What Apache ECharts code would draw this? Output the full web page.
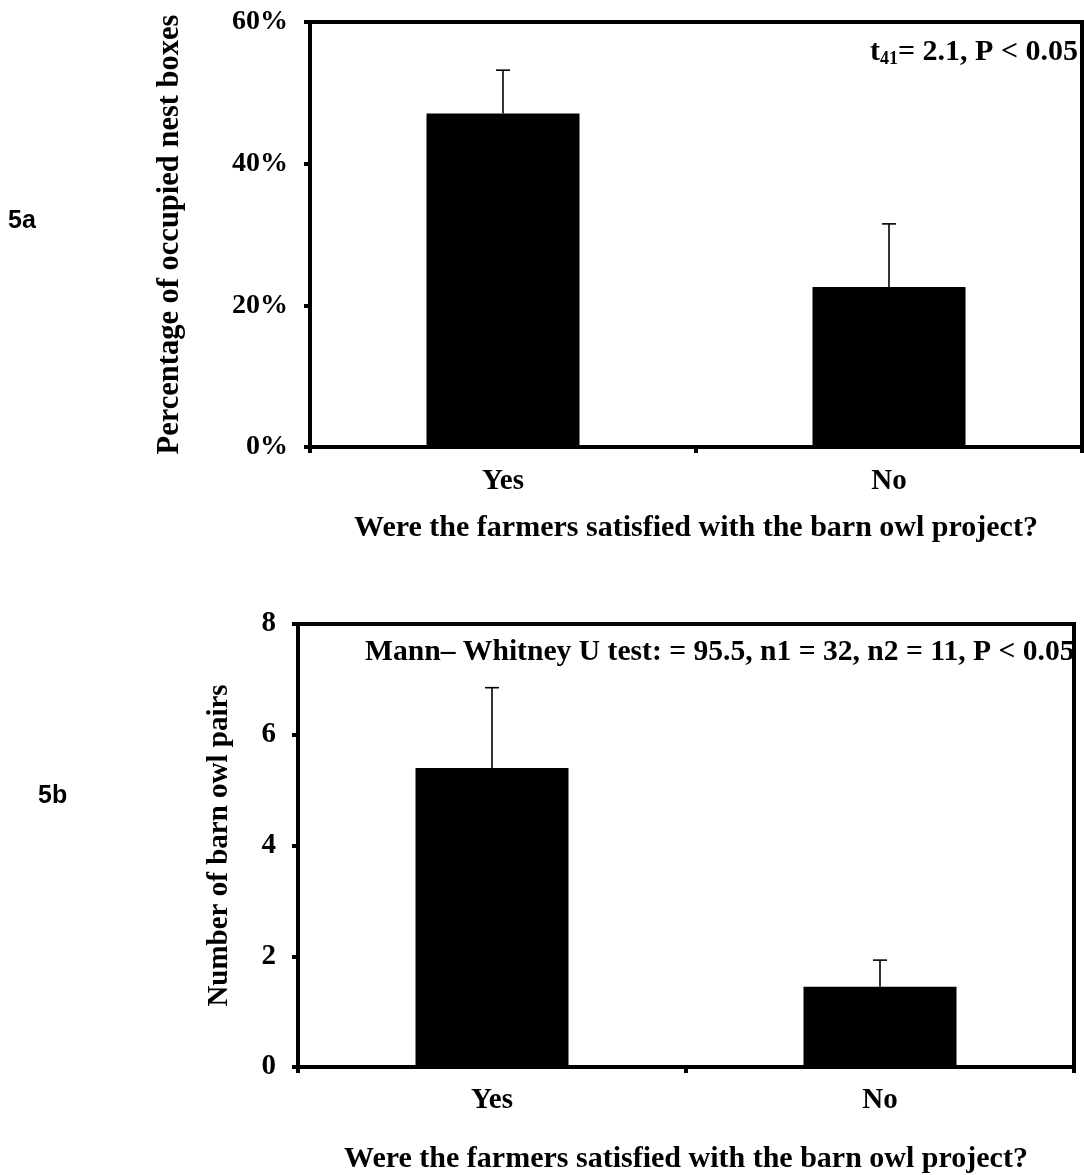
<!DOCTYPE html>
<html>
<head>
<meta charset="utf-8">
<script src="https://cdn.jsdelivr.net/npm/echarts@6/dist/echarts.min.js"></script>
<style>html,body{margin:0;padding:0;background:#fff;}#c{width:1084px;height:1175px;}</style>
</head>
<body>
<div id="c"></div>
<script>
// ---- data ----
const categories = ['Yes', 'No'];
// 5a: percentage of occupied nest boxes (mean, mean + SE)
const occupiedMean = [47.1, 22.6];
const occupiedUpper = [53.2, 31.5];
const occupiedTicks = [0, 20, 40, 60];
// 5b: number of barn owl pairs (mean, mean + SE)
const pairsMean = [5.4, 1.45];
const pairsUpper = [6.85, 1.93];
const pairsTicks = [0, 2, 4, 6, 8];

const SERIF = '"Liberation Serif", "Times New Roman", serif';
const SANS = '"Liberation Sans", Arial, sans-serif';

function errItem(params, api) {
  const x = api.value(0);
  const p1 = api.coord([x, api.value(1)]);
  const p2 = api.coord([x, api.value(2)]);
  const style = { stroke: '#000', lineWidth: 1.6 };
  return {
    type: 'group',
    children: [
      { type: 'line', shape: { x1: p1[0], y1: p1[1], x2: p2[0], y2: p2[1] }, style },
      { type: 'line', shape: { x1: p2[0] - 7, y1: p2[1], x2: p2[0] + 7, y2: p2[1] }, style }
    ]
  };
}

const axisText = { color: '#000', fontFamily: SERIF, fontWeight: 'bold' };

const chart = echarts.init(document.getElementById('c'));
chart.setOption({
  animation: false,
  backgroundColor: '#fff',
  grid: [
    { left: 310, right: 2, top: 22, height: 425, show: true, borderColor: '#000', borderWidth: 4, containLabel: false },
    { left: 298, right: 10, top: 624, height: 446, show: true, borderColor: '#000', borderWidth: 4, containLabel: false }
  ],
  xAxis: [
    {
      type: 'category', gridIndex: 0, data: categories,
      axisLine: { lineStyle: { color: '#000', width: 4 } },
      axisTick: { show: true, length: 6, lineStyle: { color: '#000', width: 4 } },
      axisLabel: Object.assign({ fontSize: 29, margin: 20 }, axisText),
      name: 'Were the farmers satisfied with the barn owl project?',
      nameLocation: 'middle', nameGap: 66,
      nameTextStyle: Object.assign({ fontSize: 30 }, axisText)
    },
    {
      type: 'category', gridIndex: 1, data: categories,
      axisLine: { lineStyle: { color: '#000', width: 4 } },
      axisTick: { show: true, length: 6, lineStyle: { color: '#000', width: 4 } },
      axisLabel: Object.assign({ fontSize: 29, margin: 19 }, axisText),
      name: 'Were the farmers satisfied with the barn owl project?',
      nameLocation: 'middle', nameGap: 77,
      nameTextStyle: Object.assign({ fontSize: 30 }, axisText)
    }
  ],
  yAxis: [
    {
      type: 'value', gridIndex: 0,
      min: occupiedTicks[0], max: occupiedTicks[occupiedTicks.length - 1], interval: occupiedTicks[1] - occupiedTicks[0],
      splitLine: { show: false },
      axisLine: { show: true, lineStyle: { color: '#000', width: 4 } },
      axisTick: { show: true, length: 6, lineStyle: { color: '#000', width: 4 } },
      axisLabel: Object.assign({ fontSize: 28, margin: 22, formatter: '{value}%' }, axisText),
      name: 'Percentage of occupied nest boxes',
      nameLocation: 'middle', nameRotate: 90, nameGap: 124,
      nameTextStyle: Object.assign({ fontSize: 30.5 }, axisText)
    },
    {
      type: 'value', gridIndex: 1,
      min: pairsTicks[0], max: pairsTicks[pairsTicks.length - 1], interval: pairsTicks[1] - pairsTicks[0],
      splitLine: { show: false },
      axisLine: { show: true, lineStyle: { color: '#000', width: 4 } },
      axisTick: { show: true, length: 6, lineStyle: { color: '#000', width: 4 } },
      axisLabel: Object.assign({ fontSize: 29, margin: 22 }, axisText),
      name: 'Number of barn owl pairs',
      nameLocation: 'middle', nameRotate: 90, nameGap: 64,
      nameTextStyle: Object.assign({ fontSize: 29 }, axisText)
    }
  ],
  series: [
    { type: 'bar', xAxisIndex: 0, yAxisIndex: 0, data: occupiedMean, barWidth: 153, itemStyle: { color: '#000' }, z: 2 },
    { type: 'custom', xAxisIndex: 0, yAxisIndex: 0, renderItem: errItem,
      data: categories.map((c, i) => [i, occupiedMean[i], occupiedUpper[i]]), z: 3 },
    { type: 'bar', xAxisIndex: 1, yAxisIndex: 1, data: pairsMean, barWidth: 153, itemStyle: { color: '#000' }, z: 2 },
    { type: 'custom', xAxisIndex: 1, yAxisIndex: 1, renderItem: errItem,
      data: categories.map((c, i) => [i, pairsMean[i], pairsUpper[i]]), z: 3 }
  ],
  graphic: [
    { type: 'text', left: 8, top: 209, style: { text: '5a', fill: '#000', font: 'bold 25px ' + SANS } },
    { type: 'text', left: 38, top: 784, style: { text: '5b', fill: '#000', font: 'bold 25px ' + SANS } },
    { type: 'text', right: 6, top: 37, z: 10,
      style: {
        text: '{t|t}{s|41}{t|= 2.1, P < 0.05}',
        fill: '#000',
        rich: {
          t: { fontFamily: SERIF, fontWeight: 'bold', fontSize: 30, fill: '#000' },
          s: { fontFamily: SERIF, fontWeight: 'bold', fontSize: 18, fill: '#000', padding: [14, 0, 0, 0] }
        }
      } },
    { type: 'text', left: 365, top: 637, z: 1,
      style: { text: 'Mann\u2013 Whitney U test: = 95.5, n1 = 32, n2 = 11, P < 0.05', fill: '#000',
        font: 'bold 29.6px ' + SERIF } }
  ]
});
</script>
</body>
</html>
